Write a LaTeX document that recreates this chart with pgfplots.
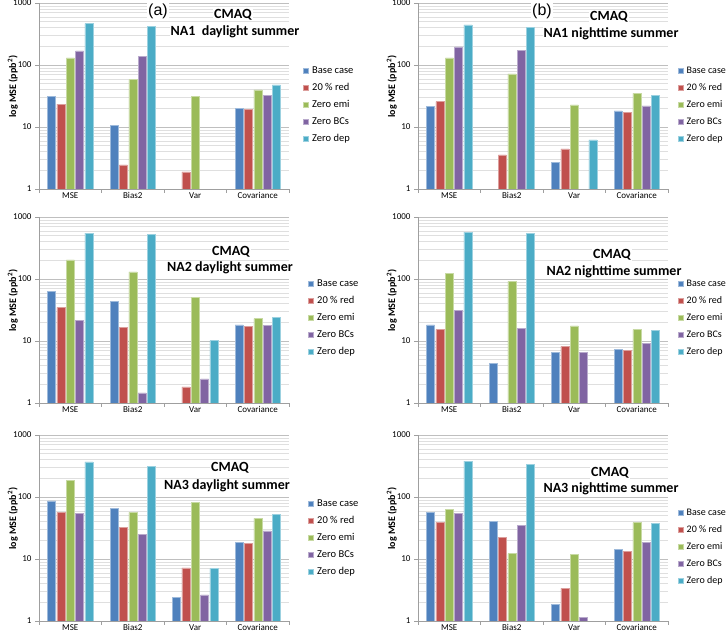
\documentclass[border=0pt]{standalone}
\usepackage{fontspec}
\setmainfont{Carlito}
\newfontfamily\arialf{Liberation Sans}
\usepackage{pgfplots}
\usepackage{pgfplotstable}
\pgfplotsset{compat=1.18}

\definecolor{xlBlue}{HTML}{4F81BD}
\definecolor{xlRed}{HTML}{C0504D}
\definecolor{xlGreen}{HTML}{9BBB59}
\definecolor{xlPurple}{HTML}{8064A2}
\definecolor{xlCyan}{HTML}{4BACC6}

% columns: category index, Base case, 20% red, Zero emi, Zero BCs, Zero dep
\pgfplotstableread{
x base red emi bcs dep
0 31   23.4 130  169  466
1 10.6 2.46 58   138  417
2 nan  1.89 30.8 nan  nan
3 20   19.5 39.6 32   47.8
}\naOneDay
\pgfplotstableread{
x base red emi bcs dep
0 21.7 25.6 130  196  443
1 nan  3.54 72   173  401
2 2.69 4.43 22.8 nan  6.2
3 18.2 17.3 35   22   32.4
}\naOneNight
\pgfplotstableread{
x base red emi bcs dep
0 62.3 34.7 203  21.6 551
1 44   16.5 130  1.45 524
2 nan  1.82 50.4 2.45 10.1
3 18.2 17.3 23   17.7 23.9
}\naTwoDay
\pgfplotstableread{
x base red emi bcs dep
0 18.2 15.3 124  31   571
1 4.3  nan  91.6 15.8 550
2 6.6  8.2  17.5 6.6  nan
3 7.3  7.1  15.3 9.1  14.7
}\naTwoNight
\pgfplotstableread{
x base red emi bcs dep
0 86.5 56.7 184  54.7 369
1 65.9 32   56.7 24.7 310
2 2.4  7.2  82   2.65 7
3 18.8 17.9 45.4 28.3 52.7
}\naThreeDay
\pgfplotstableread{
x base red emi bcs dep
0 56.7 39   62.7 54.7 378
1 40.6 22.4 12.2 35   338
2 1.87 3.36 11.9 1.14 nan
3 14.2 13.3 38.6 18.6 37.7
}\naThreeNight

\pgfplotsset{
  mse/.style={
    anchor=south west, scale only axis, width=250pt, height=186pt,
    ymin=1, ymax=1000, xmin=-0.5, xmax=3.5,
    ybar=1.3pt, bar width=8pt,
    axis lines*=left, axis line style={gray!75,-},
    tick align=outside, major tick length=4pt, minor tick length=0pt,
    tick style={gray!75},
    xtick={-0.5,0.5,1.5,2.5,3.5}, xticklabels={},
    extra x ticks={0,1,2,3},
    extra x tick labels={MSE,Bias2,Var,Covariance},
    extra x tick style={major tick length=0pt},
    ytick={1,10,100,1000}, yticklabels={1,10,100,1000},
    ymajorgrids, yminorgrids,
    major grid style={gray!50}, minor grid style={gray!25},
    tick label style={font=\fontsize{9}{10}\selectfont},
    ylabel={log MSE (ppb\textsuperscript{2})},
    ylabel style={font=\bfseries\fontsize{10}{12}\selectfont,
      at={(axis description cs:-0.105,0.55)}, anchor=center},
    legend style={draw=none, fill=none, anchor=north west,
      font=\fontsize{10.5}{12}\selectfont, row sep=6.5pt,
      nodes={inner sep=0pt, text height=8pt, text depth=2.5pt},
      /tikz/every odd column/.append style={column sep=3.5pt}},
    legend cell align=left,
    legend image code/.code={\fill[##1] (0pt,-2.5pt) rectangle (5pt,2.5pt);},
  },
  rlegend/.style={legend style={at={(1.026,#1)},
      font=\fontsize{10}{12}\selectfont}},
  b1/.style={fill=xlBlue, draw=xlBlue!55!white, line width=0.5pt},
  b2/.style={fill=xlRed, draw=xlRed!55!white, line width=0.5pt},
  b3/.style={fill=xlGreen, draw=xlGreen!55!white, line width=0.5pt},
  b4/.style={fill=xlPurple, draw=xlPurple!55!white, line width=0.5pt},
  b5/.style={fill=xlCyan, draw=xlCyan!55!white, line width=0.5pt},
}

\newcommand\bars[1]{%
  \addplot[b1] table[x=x,y=base]{#1};
  \addplot[b2] table[x=x,y=red]{#1};
  \addplot[b3] table[x=x,y=emi]{#1};
  \addplot[b4] table[x=x,y=bcs]{#1};
  \addplot[b5] table[x=x,y=dep]{#1};
  \legend{Base case,20 \% red,Zero emi,Zero BCs,Zero dep}}

\newcommand\panelttl[5]{%
  \node[fill=white, inner sep=1pt, font=\bfseries\fontsize{14}{16}\selectfont]
    at (#1pt,{(639-#2)*1pt}) {CMAQ};
  \node[fill=white, inner sep=1pt, font=\bfseries\fontsize{14}{16}\selectfont]
    at (#3pt,{(639-#4)*1pt}) {#5};}

\begin{document}
\begin{tikzpicture}
\useasboundingbox (0,0) rectangle (728pt,639pt);

\begin{semilogyaxis}[mse, at={(39pt,450pt)}, legend style={at={(1.044,0.677)}}]
\bars{\naOneDay}
\end{semilogyaxis}
\begin{semilogyaxis}[mse, at={(418pt,450pt)}, rlegend=0.677]
\bars{\naOneNight}
\end{semilogyaxis}
\begin{semilogyaxis}[mse, at={(39pt,236pt)}, legend style={at={(1.064,0.683)}}]
\bars{\naTwoDay}
\end{semilogyaxis}
\begin{semilogyaxis}[mse, at={(418pt,236pt)}, rlegend=0.683]
\bars{\naTwoNight}
\end{semilogyaxis}
\begin{semilogyaxis}[mse, at={(39pt,18pt)}, legend style={at={(1.064,0.672)}}]
\bars{\naThreeDay}
\end{semilogyaxis}
\begin{semilogyaxis}[mse, at={(418pt,18pt)}, rlegend=0.624]
\bars{\naThreeNight}
\end{semilogyaxis}

\node[fill=white, inner sep=1pt, font=\arialf\fontsize{16}{18}\selectfont] at (158pt,628pt) {(a)};
\node[fill=white, inner sep=1pt, font=\arialf\fontsize{16}{18}\selectfont] at (542pt,628pt) {(b)};

\panelttl{233}{15}{235}{32}{NA1\ \ daylight summer}
\panelttl{609}{17}{611}{34}{NA1 nighttime summer}
\panelttl{231}{252}{230}{268}{NA2 daylight summer}
\panelttl{612}{255}{614}{272}{NA2 nighttime summer}
\panelttl{230}{468}{227}{486}{NA3 daylight summer}
\panelttl{610}{473}{611}{489}{NA3 nighttime summer}
\end{tikzpicture}
\end{document}
